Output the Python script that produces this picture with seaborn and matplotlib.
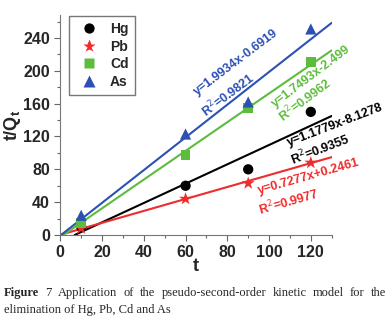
import numpy as np
import pandas as pd
import matplotlib
matplotlib.use('Agg')
import matplotlib.pyplot as plt
import seaborn as sns

# data
t = [10, 60, 90, 120]
hg = [10, 60, 80, 150]
pb = [8, 44, 63, 88]
cd = [15, 97, 155, 211]
as_ = [24, 123, 162, 251]

metals = ['Hg', 'Pb', 'Cd', 'As']
slopes = [1.1779, 0.7277, 1.7493, 1.9934]
intercepts = [-8.1278, 0.2461, -2.499, -0.6919]
eq_labels = ['y=1.1779x-8.1278', 'y=0.7277x+0.2461', 'y=1.7493x-2.499', 'y=1.9934x-0.6919']
r2_labels = ['R$^2$=0.9355', 'R$^2$=0.9977', 'R$^2$=0.9962', 'R$^2$=0.9821']

colors = {'Hg': 'black', 'Pb': '#f02b2b', 'Cd': '#5cbd3c', 'As': '#2c51b3'}
markers = {'Hg': 'o', 'Pb': '*', 'Cd': 's', 'As': '^'}
msizes = {'Hg': 55, 'Pb': 95, 'Cd': 50, 'As': 65}

df = pd.DataFrame({
    't': t * 4,
    'tq': hg + pb + cd + as_,
    'metal': [m for m in metals for _ in t],
})

sns.set_style('ticks')
plt.rcParams['font.family'] = ['Liberation Sans', 'DejaVu Sans']

fig = plt.figure(figsize=(3.92, 3.22), dpi=100)
ax = fig.add_axes([60.3 / 392, 1 - 235 / 322, 271.4 / 392, 220 / 322])

# fitted lines
fit_rows = []
for m, k, b in zip(metals, slopes, intercepts):
    x0 = max(0, -b / k)
    for x in (x0, 130):
        fit_rows.append({'t': x, 'tq': k * x + b, 'metal': m})
fit = pd.DataFrame(fit_rows)
sns.lineplot(data=fit, x='t', y='tq', hue='metal', palette=colors, lw=1.5,
             legend=False, ax=ax)

sns.scatterplot(data=df, x='t', y='tq', hue='metal', style='metal', size='metal',
                palette=colors, markers=markers, sizes=msizes, edgecolor='none',
                ax=ax, zorder=5)

h, l = ax.get_legend_handles_labels()
leg = ax.legend(h, l, loc='upper left', bbox_to_anchor=(0.032, 0.995), borderaxespad=0,
                frameon=True, fancybox=False, edgecolor='#555555', handletextpad=0.5,
                borderpad=0.45, labelspacing=0.25, prop={'weight': 'bold', 'size': 10})
leg.get_frame().set_linewidth(1.0)

ax.set_xlim(0, 130)
ax.set_ylim(0, 268)
ax.set_xticks(range(0, 121, 20))
ax.set_xticks(range(0, 131, 10), minor=True)
ax.set_yticks(range(0, 241, 40))
ax.set_yticks(range(0, 261, 20), minor=True)
ax.tick_params(which='major', length=4, width=0.8, color='#666666', labelsize=11.5)
ax.tick_params(which='minor', length=2, width=0.8, color='#666666')
for lab in ax.get_xticklabels() + ax.get_yticklabels():
    lab.set_fontweight('bold')
for s in ['left', 'bottom']:
    ax.spines[s].set_color('#777777')
sns.despine(ax=ax)

ax.set_xlabel('t', fontsize=13, fontweight='bold', labelpad=-2)
ax.set_ylabel('t/Q$_\\mathregular{t}$', fontsize=13, fontweight='bold', labelpad=0)

# equation annotations
eq_pos = [(131.6, 134, 21), (119, 71, 16), (120.4, 193, 37), (84.3, 210, 37)]
r2_pos = [(124.7, 104, 21), (109.5, 41, 16), (117, 165, 37), (80.5, 171, 37)]
for i, m in enumerate(metals):
    x, y, a = eq_pos[i]
    ax.text(x, y, eq_labels[i], color=colors[m], rotation=a, ha='center', va='center',
            fontsize=9, fontweight='bold', clip_on=False, rotation_mode='anchor')
    x, y, a = r2_pos[i]
    ax.text(x, y, r2_labels[i], color=colors[m], rotation=a, ha='center', va='center',
            fontsize=9, fontweight='bold', clip_on=False, rotation_mode='anchor')

# caption, first line justified
serif = ['Liberation Serif', 'DejaVu Serif']
words = ['Figure', '7', 'Application', 'of', 'the', 'pseudo-second-order',
         'kinetic', 'model', 'for', 'the']
r = fig.canvas.get_renderer()
texts = []
for w in words:
    texts.append(fig.text(0, 1 - 293 / 322, w, fontsize=9, family=serif, va='center',
                          fontweight='bold' if w == 'Figure' else 'normal'))
widths = [tx.get_window_extent(r).width for tx in texts]
gap = (386 - 4 - sum(widths)) / (len(words) - 1)
x = 4
for tx, w in zip(texts, widths):
    tx.set_x(x / 392)
    x += w + gap
fig.text(4 / 392, 1 - 310 / 322, 'elimination of Hg, Pb, Cd and As', fontsize=9,
         family=serif, va='center')

fig.savefig('out.png', dpi=100)
